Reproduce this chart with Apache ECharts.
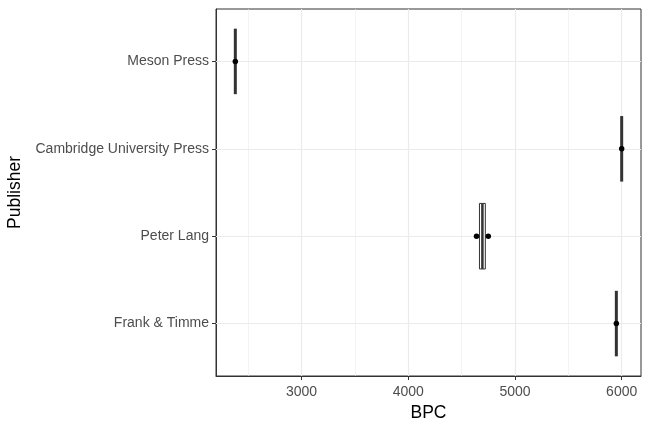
<!DOCTYPE html>
<html>
<head>
<meta charset="utf-8">
<script src="https://cdn.jsdelivr.net/npm/echarts@6/dist/echarts.min.js"></script>
<style>
  html, body { margin: 0; padding: 0; background: #fff; }
  #chart { width: 648px; height: 432px; }
</style>
</head>
<body>
<div id="chart"></div>
<script>
// publishers, bottom to top as ggplot stacks them
const publishers = ['Frank & Timme', 'Peter Lang', 'Cambridge University Press', 'Meson Press'];
// BPC values per publisher (same order)
const bpcValues = [
    [5950],
    [4640, 4750],
    [6000],
    [2380]
];
const majorTicks = [3000, 4000, 5000, 6000];
const minorTicks = [2500, 3500, 4500, 5500];

const FONT = '"Liberation Sans", Arial, sans-serif';

// type 7 quantile, like R's default
function quantile(arr, p) {
    const s = arr.slice().sort(function(a, b) { return a - b; });
    const h = (s.length - 1) * p;
    const lo = Math.floor(h);
    if (lo + 1 >= s.length) return s[lo];
    return s[lo] + (h - lo) * (s[lo + 1] - s[lo]);
}

const boxData = bpcValues.map(function(vals, i) {
    return [i + 1, Math.min.apply(null, vals), quantile(vals, 0.25), quantile(vals, 0.5),
        quantile(vals, 0.75), Math.max.apply(null, vals)];
});
const pointData = [];
bpcValues.forEach(function(vals, i) {
    vals.forEach(function(v) { pointData.push([v, i + 1]); });
});

// data range plus ggplot's 5% expansion
const allVals = [].concat.apply([], bpcValues);
const xLo = Math.min.apply(null, allVals), xHi = Math.max.apply(null, allVals);
const pad = (xHi - xLo) * 0.05;

const gridLines = [];
majorTicks.forEach(function(v) { gridLines.push({ xAxis: v, lineStyle: { width: 1.2 } }); });
minorTicks.forEach(function(v) { gridLines.push({ xAxis: v, lineStyle: { width: 0.6 } }); });
publishers.forEach(function(p, i) { gridLines.push({ yAxis: i + 1, lineStyle: { width: 1.2 } }); });

const chart = echarts.init(document.getElementById('chart'), null, { renderer: 'canvas' });
chart.setOption({
    animation: false,
    backgroundColor: '#fff',
    textStyle: { fontFamily: FONT },
    grid: {
        left: 216, right: 7, top: 9, bottom: 56,
        outerBoundsMode: 'none',
        containLabel: false,
        show: true, borderColor: '#333333', borderWidth: 1, backgroundColor: '#fff'
    },
    xAxis: {
        type: 'value',
        min: xLo - pad,
        max: xHi + pad,
        name: 'BPC',
        nameLocation: 'middle',
        nameGap: 26,
        nameTextStyle: { color: '#000', fontSize: 17.5, fontFamily: FONT },
        axisLine: { show: true, lineStyle: { color: '#333333', width: 1 } },
        axisTick: { show: true, length: 4, customValues: majorTicks, lineStyle: { color: '#333333' } },
        axisLabel: {
            customValues: majorTicks, color: '#4d4d4d', fontSize: 14, margin: 9, fontFamily: FONT,
            formatter: function(v) { return String(v); }
        },
        splitLine: { show: false }
    },
    yAxis: {
        type: 'value',
        min: 0.4,
        max: publishers.length + 0.6,
        name: 'Publisher',
        nameLocation: 'middle',
        nameGap: 189,
        nameRotate: 90,
        nameTextStyle: { color: '#000', fontSize: 17.5, fontFamily: FONT },
        axisLine: { show: true, lineStyle: { color: '#333333', width: 1 } },
        axisTick: { show: true, length: 4, customValues: [1, 2, 3, 4], lineStyle: { color: '#333333' } },
        axisLabel: {
            customValues: [1, 2, 3, 4],
            color: '#4d4d4d', fontSize: 14, margin: 7, fontFamily: FONT,
            formatter: function(v) { return publishers[Math.round(v) - 1] || ''; }
        },
        splitLine: { show: false }
    },
    series: [
        {
            // panel grid
            type: 'scatter',
            data: [],
            silent: true,
            z: 1,
            markLine: {
                silent: true,
                z: 1,
                symbol: 'none',
                label: { show: false },
                lineStyle: { color: '#ebebeb', type: 'solid' },
                data: gridLines
            }
        },
        {
            type: 'custom',
            z: 6,
            data: boxData,
            encode: { x: [1, 2, 3, 4, 5], y: 0 },
            renderItem: function(params, api) {
                const y = api.value(0);
                const lo = api.value(1), q1 = api.value(2), med = api.value(3), q3 = api.value(4), hi = api.value(5);
                const hw = 0.375;
                const a = api.coord([q1, y + hw]);
                const b = api.coord([q3, y - hw]);
                const c = api.coord([med, y]);
                const l = api.coord([lo, y]);
                const h = api.coord([hi, y]);
                const stroke = { stroke: '#333333', lineWidth: 1 };
                const kids = [
                    { type: 'line', shape: { x1: l[0], y1: c[1], x2: a[0], y2: c[1] }, style: stroke },
                    { type: 'line', shape: { x1: b[0], y1: c[1], x2: h[0], y2: c[1] }, style: stroke }
                ];
                if (b[0] - a[0] > 1) {
                    kids.push({ type: 'rect', shape: { x: a[0], y: a[1], width: b[0] - a[0], height: b[1] - a[1] },
                        style: { fill: '#fff', stroke: '#333333', lineWidth: 1 } });
                }
                kids.push({ type: 'line', shape: { x1: c[0], y1: a[1], x2: c[0], y2: b[1] },
                    style: { stroke: '#333333', lineWidth: b[0] - a[0] > 1 ? 2.5 : 3 } });
                return { type: 'group', children: kids };
            }
        },
        {
            type: 'scatter',
            z: 10,
            data: pointData,
            symbol: 'circle',
            symbolSize: 5.5,
            itemStyle: { color: '#000', opacity: 1, borderWidth: 0 }
        }
    ]
});
</script>
</body>
</html>
